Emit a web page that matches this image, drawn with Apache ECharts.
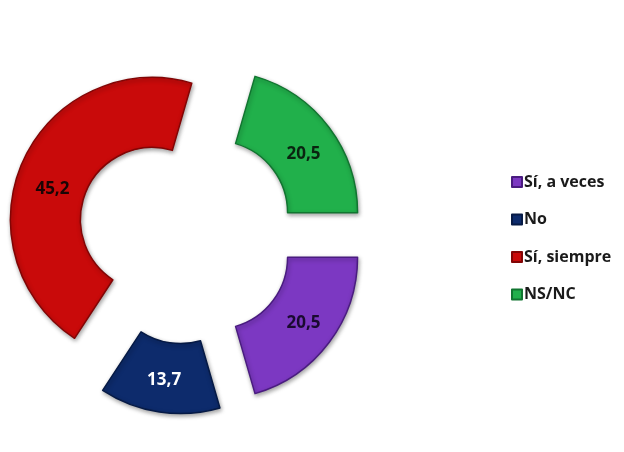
<!DOCTYPE html>
<html>
<head>
<meta charset="utf-8">
<script src="https://cdn.jsdelivr.net/npm/echarts@6/dist/echarts.min.js"></script>
<style>
  html, body { margin: 0; padding: 0; background: #ffffff; }
  #chart { width: 624px; height: 452px; }
</style>
</head>
<body>
<div id="chart"></div>
<script>
// Response categories and their percentages
const categories = ['Sí, a veces', 'No', 'Sí, siempre', 'NS/NC'];
const values = [20.5, 13.7, 45.2, 20.5];
const colors = ['#7c38c2', '#0d2b6c', '#c90a0a', '#21b04b'];
const edgeColors = ['#4a1c80', '#061a45', '#820505', '#117530'];
const labelColors = ['#1a0a30', '#ffffff', '#1a0505', '#0a2410'];
// extra drop (px) of each value label below its slice's mid point
const labelDrops = [0, 0, 16, 7];

const chart = echarts.init(document.getElementById('chart'), null, { renderer: 'canvas' });

const pieData = categories.map((name, i) => ({
  name: name,
  value: values[i],
  selected: true,
  itemStyle: {
    color: colors[i],
    borderColor: edgeColors[i],
    borderWidth: 1.5,
    shadowColor: 'rgba(0,0,0,0.35)',
    shadowBlur: 4,
    shadowOffsetX: 1,
    shadowOffsetY: 2
  },
  label: {
    color: labelColors[i],
    rich: {
      g: { lineHeight: labelDrops[i] * 2, fontSize: 1 },
      v: { color: labelColors[i], fontFamily: 'Open Sans', fontWeight: 'bold', fontSize: 17, lineHeight: 22 }
    }
  }
}));

chart.setOption({
  animation: false,
  backgroundColor: '#ffffff',
  legend: {
    orient: 'vertical',
    left: 506,
    top: 169,
    itemWidth: 10,
    itemHeight: 10,
    itemGap: 21.5,
    icon: 'rect',
    selectedMode: false,
    textStyle: {
      fontFamily: 'Open Sans',
      fontWeight: 'bold',
      fontSize: 16,
      color: '#1a1a1a',
      padding: [0, 0, 0, -3]
    },
    data: categories
  },
  series: [{
    type: 'pie',
    center: [186, 235],
    radius: [72, 142],
    startAngle: 0,
    clockwise: true,
    selectedMode: 'multiple',
    selectedOffset: 37,
    avoidLabelOverlap: false,
    emphasis: { disabled: true },
    select: { itemStyle: {} },
    label: {
      show: true,
      position: 'inside',
      fontFamily: 'Open Sans',
      fontWeight: 'bold',
      fontSize: 17,
      formatter: p => {
        const txt = '{v|' + p.value.toFixed(1).replace('.', ',') + '}';
        return labelDrops[p.dataIndex] > 0 ? '{g| }\n' + txt : txt;
      }
    },
    labelLine: { show: false },
    data: pieData
  }]
});
</script>
</body>
</html>
